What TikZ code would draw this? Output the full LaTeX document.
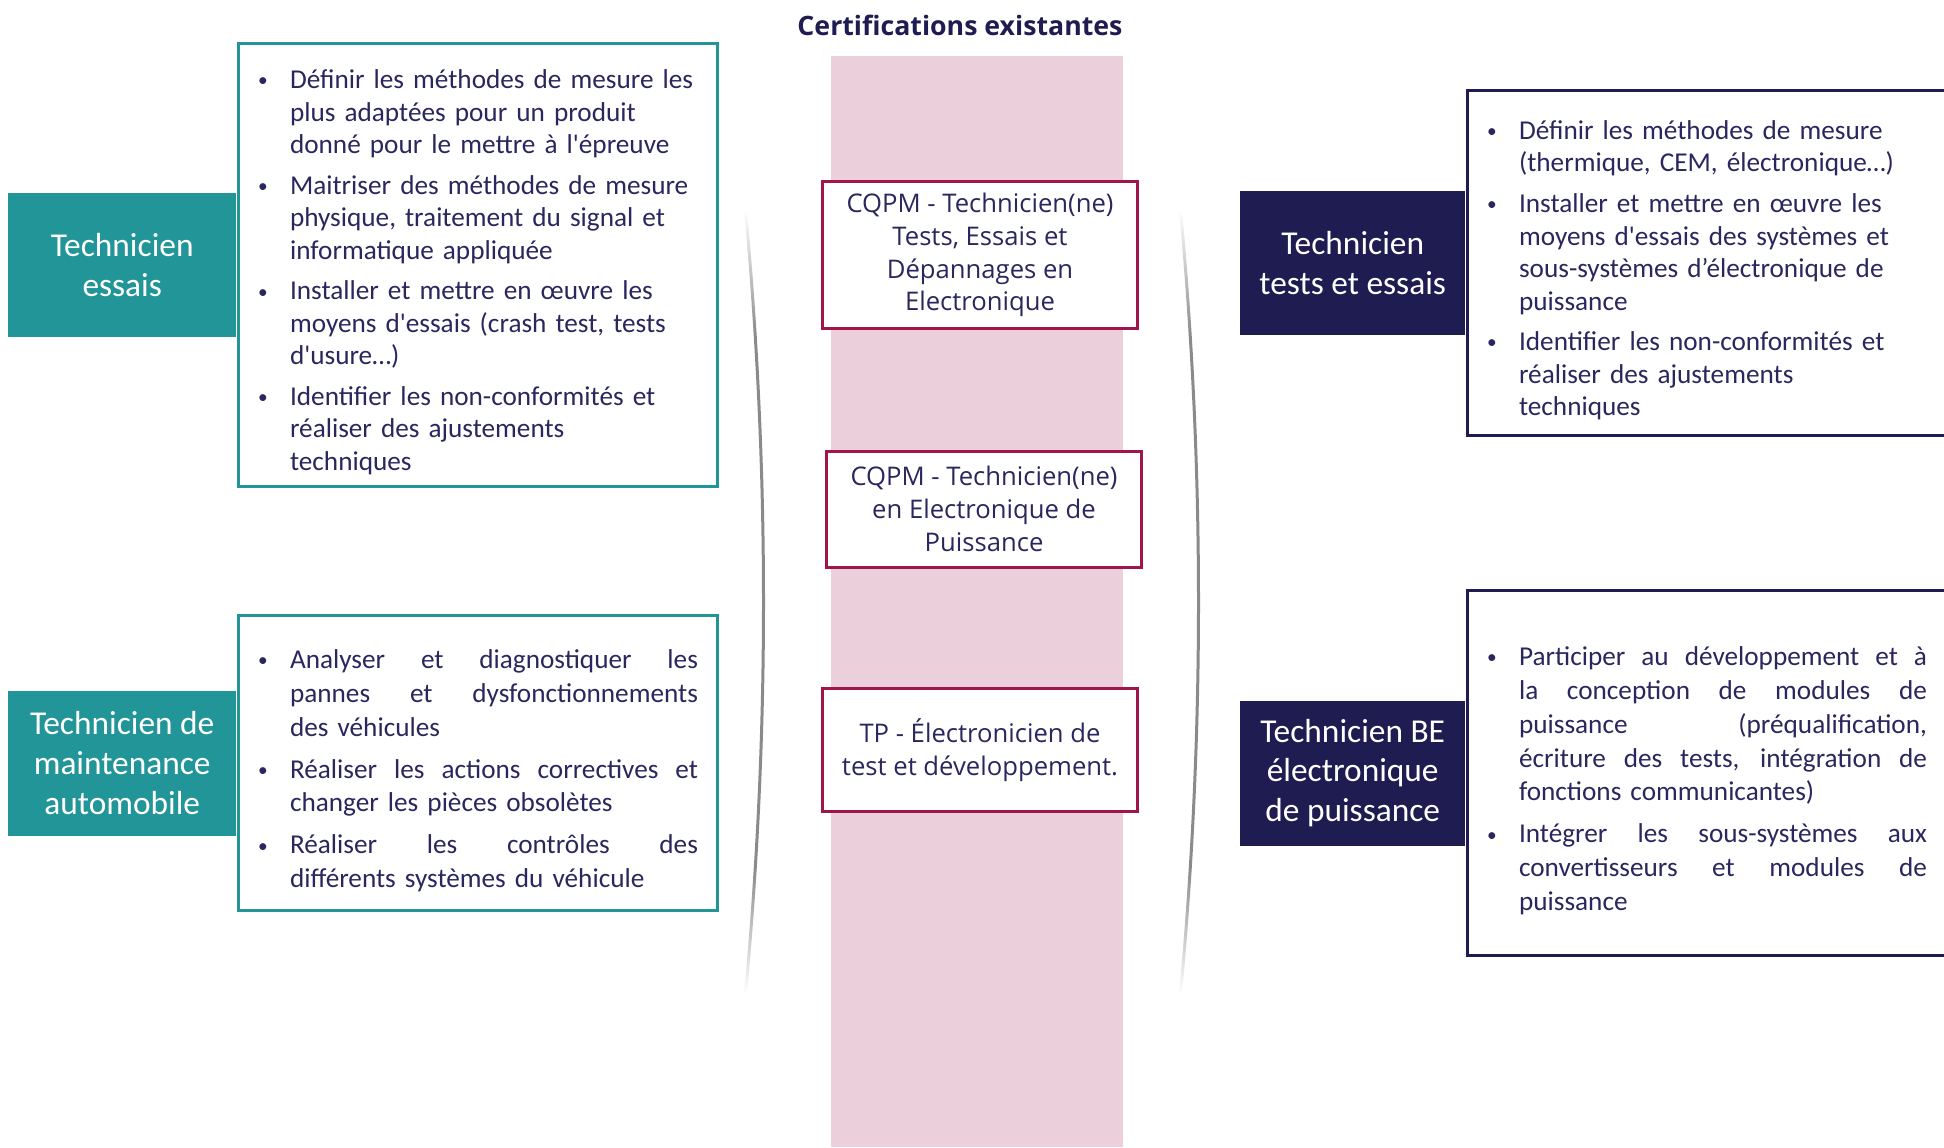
\documentclass[tikz,border=0pt]{standalone}
\usepackage{fontspec}
\setmainfont{Carlito}
\newfontfamily\opensans{Open Sans}
\usetikzlibrary{positioning}

\definecolor{tealbox}{RGB}{34,149,152}
\definecolor{navybox}{RGB}{31,28,82}
\definecolor{txtnavy}{RGB}{42,39,94}
\definecolor{crimson}{RGB}{160,21,74}
\definecolor{pinkband}{RGB}{235,207,218}
\definecolor{liaisongray}{RGB}{138,138,138}
\pgfdeclareverticalshading{fadeline}{100bp}{color(0bp)=(white); color(25bp)=(white); color(33bp)=(liaisongray); color(67bp)=(liaisongray); color(75bp)=(white); color(100bp)=(white)}
% puce avec retrait, \jl pour une ligne justifiee
\newcommand{\puce}[1]{\par\noindent\makebox[0.64cm][l]{\raisebox{1pt}{\fontsize{11}{11}\selectfont\textbullet}}\parbox[t]{8.16cm}{\raggedright\strut#1\strut}}
\newcommand{\jl}[1]{\makebox[8.16cm][s]{\spaceskip=0.23em plus 1fil\relax#1}}
\newcommand{\apos}{\textquotesingle}

\begin{document}
\begin{tikzpicture}[x=0.02cm, y=-0.02cm,
    txtbox/.style={draw, line width=0.06cm, fill=white, text width=8.8cm, inner xsep=0.4cm, inner ysep=0pt, text=txtnavy, font=\fontsize{15.5}{18.5}\selectfont, execute at begin node={\setlength{\parskip}{3.6pt}}},
    metier/.style={text=white, align=center, minimum height=2.9cm, inner sep=0pt, font=\fontsize{19}{22.5}\selectfont},
    certbox/.style={draw=crimson, line width=0.06cm, fill=white, minimum width=6.32cm, align=center, text=txtnavy, font=\opensans\fontsize{14.6}{18.7}\selectfont},
    liaison/.style={shading=fadeline},
]
\useasboundingbox (0,0) rectangle (1944,1147);

% bande des certifications
\fill[pinkband] (831,56) rectangle (1123,1147);
\node[font=\opensans\bfseries\fontsize{15.2}{18}\selectfont, text=navybox] (titre) at (960,25) {Certifications existantes};

\shade[liaison] (744,210) .. controls (768,470) and (768,735) .. (744,994) -- (747,994) .. controls (771,735) and (771,470) .. (747,210) -- cycle;
\shade[liaison] (1179,210) .. controls (1203,470) and (1203,735) .. (1179,994) -- (1182,994) .. controls (1206,735) and (1206,470) .. (1182,210) -- cycle;

\node[certbox, minimum height=2.94cm] (cqpmA) at (980,255) {CQPM - Technicien(ne)\\Tests, Essais et\\Dépannages en\\Electronique};
\node[certbox, minimum height=2.32cm] (cqpmB) at (984,509) {CQPM - Technicien(ne)\\en Electronique de\\Puissance};
\node[certbox, minimum height=2.46cm] (tp) at (980,750) {TP - Électronicien de\\test et développement.};

% metiers a gauche
\node[txtbox, draw=tealbox, minimum height=8.88cm] (essais) at (478,265) {%
\puce{Définir les méthodes de mesure les\\plus adaptées pour un produit\\donné pour le mettre à l\apos épreuve}
\puce{Maitriser des méthodes de mesure\\physique, traitement du signal et\\informatique appliquée}
\puce{Installer et mettre en œuvre les\\moyens d\apos essais (crash test, tests\\d\apos usure…)}
\puce{Identifier les non-conformités et\\réaliser des ajustements\\techniques}};
\node[metier, fill=tealbox, minimum width=4.56cm, left=0pt of essais] (essaisT) {Technicien\\essais};

\node[txtbox, draw=tealbox, minimum height=5.9cm, font=\fontsize{15.5}{19.3}\selectfont] (auto) at (478,763) {%
\puce{\jl{Analyser et diagnostiquer les}\\\jl{pannes et dysfonctionnements}\\des véhicules}
\puce{\jl{Réaliser les actions correctives et}\\changer les pièces obsolètes}
\puce{\jl{Réaliser les contrôles des}\\différents systèmes du véhicule}};
\node[metier, fill=tealbox, minimum width=4.56cm, left=0pt of auto] (autoT) {Technicien de\\maintenance\\automobile};

% metiers a droite
\node[txtbox, draw=navybox, minimum height=6.9cm] (tests) at (1707,263) {%
\puce{Définir les méthodes de mesure\\(thermique, CEM, électronique…)}
\puce{Installer et mettre en œuvre les\\moyens d\apos essais des systèmes et\\sous-systèmes d’électronique de\\puissance}
\puce{Identifier les non-conformités et\\réaliser des ajustements\\techniques}};
\node[metier, fill=navybox, minimum width=4.5cm, left=0pt of tests] (testsT) {Technicien\\tests et essais};

\node[txtbox, draw=navybox, minimum height=7.3cm, font=\fontsize{15.5}{19.3}\selectfont] (be) at (1707,773) {%
\puce{\jl{Participer au développement et à}\\\jl{la conception de modules de}\\\jl{puissance (préqualification,}\\\jl{écriture des tests, intégration de}\\fonctions communicantes)}
\puce{\jl{Intégrer les sous-systèmes aux}\\\jl{convertisseurs et modules de}\\puissance}};
\node[metier, fill=navybox, minimum width=4.5cm, left=0pt of be] (beT) {Technicien BE\\électronique\\de puissance};
\end{tikzpicture}
\end{document}
